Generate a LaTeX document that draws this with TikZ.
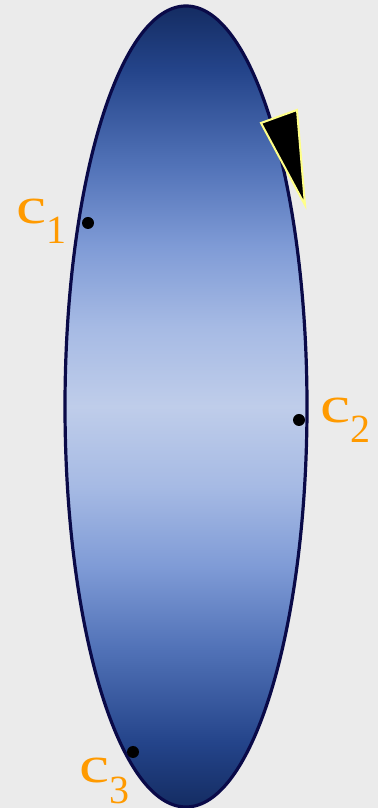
\documentclass[tikz,border=0pt]{standalone}
\usepackage{fontspec}
\usepackage{graphicx}
\newfontfamily\labfont{Liberation Serif}
\definecolor{bgc}{HTML}{EBEBEB}
\definecolor{edgec}{HTML}{0A0A48}
\definecolor{labc}{HTML}{FF9A00}
\definecolor{triedge}{HTML}{FFFF88}
\definecolor{sa}{RGB}{20,44,98}
\definecolor{sb}{RGB}{36,68,138}
\definecolor{sc}{RGB}{82,115,184}
\definecolor{sd}{RGB}{127,155,214}
\definecolor{se}{RGB}{166,186,228}
\definecolor{sf}{RGB}{191,205,234}
\pgfdeclareverticalshading{ellshade}{100bp}{
  color(0bp)=(sa); color(25bp)=(sa); color(29bp)=(sb); color(35bp)=(sc);
  color(40bp)=(sd); color(45bp)=(se); color(50bp)=(sf); color(55bp)=(se);
  color(60bp)=(sd); color(65bp)=(sc); color(71bp)=(sb); color(75bp)=(sa);
  color(100bp)=(sa)}
\newcommand{\biglab}[1]{\labfont{\fontsize{52}{52}\selectfont\scalebox{1.3}[1]{c}}\raisebox{-20pt}{\fontsize{40}{40}\selectfont #1}}
\tikzset{
  dot/.style={circle,fill=black,inner sep=0pt,minimum size=12pt},
  lab/.style={text=labc,inner sep=0pt,anchor=base west}
}
\begin{document}
\begin{tikzpicture}[x=1pt,y=1pt]
\fill[bgc] (0,0) rectangle (378,808);
\useasboundingbox (0,0) rectangle (378,808);
\path[shading=ellshade,draw=edgec,line width=3.2pt] (186,401.5) ellipse [x radius=121,y radius=400.5];
\path[fill=black,draw=triedge,line width=2pt,line join=miter] (261,685) -- (297,698) -- (305,603) -- cycle;
\node[dot] (d1) at (88,585) {};
\node[dot] (d2) at (299,388) {};
\node[dot] (d3) at (133,56) {};
\node[lab] (l1) at (16.5,584) {\biglab{1}};
\node[lab] (l2) at (320.5,385.5) {\biglab{2}};
\node[lab] (l3) at (79.5,25) {\biglab{3}};
\end{tikzpicture}
\end{document}
